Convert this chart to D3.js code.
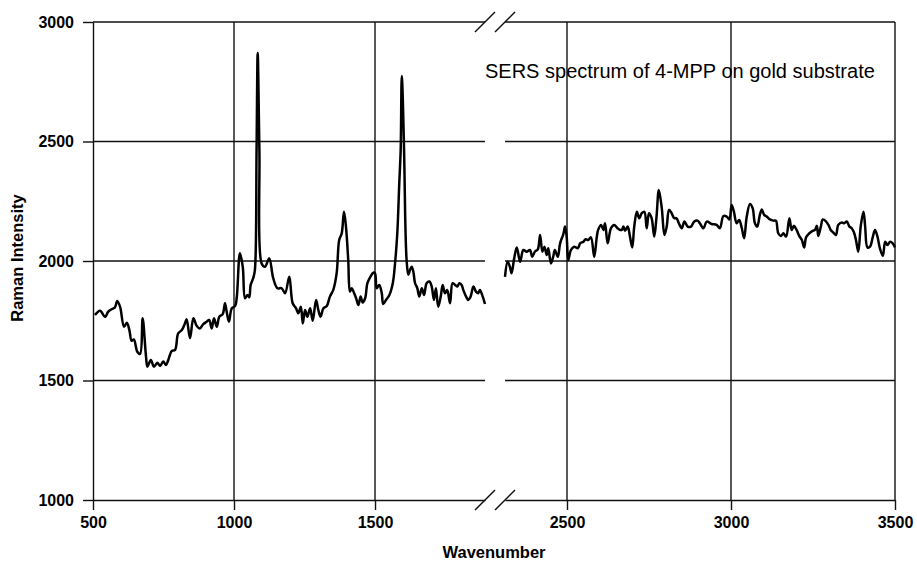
<!DOCTYPE html>
<html>
<head>
<meta charset="utf-8">
<script src="https://cdn.jsdelivr.net/npm/d3@7"></script>
<style>
  html, body { margin: 0; padding: 0; background: #fff; }
  svg { display: block; font-family: "Liberation Sans", Arial, sans-serif; }
</style>
</head>
<body>
<svg id="chart" width="917" height="569"></svg>
<script>
// ---- Data ----
const yTicks = [1000, 1500, 2000, 2500, 3000];
const leftXTicks = [500, 1000, 1500];
const rightXTicks = [2500, 3000, 3500];
const titleText = "SERS spectrum of 4-MPP on gold substrate";
const xTitle = "Wavenumber";
const yTitle = "Raman Intensity";

// Left segment: wavenumber / intensity
const leftWn = [507,525,543,554,566,578,586,596,610,620,629,637,645,657,667,676,688,693,705,716,728,738,749,759,767,779,791,802,815,826,832,844,856,868,879,891,903,912,921,929,939,948,960,968,974,982,992,1004,1010,1021,1031,1039,1047,1054,1059,1068,1074,1080,1084,1090,1098,1110,1125,1139,1154,1169,1181,1196,1208,1220,1228,1237,1244,1252,1260,1270,1279,1291,1299,1307,1317,1329,1340,1352,1364,1373,1382,1390,1397,1405,1411,1417,1426,1433,1441,1449,1456,1465,1473,1485,1494,1500,1506,1515,1524,1529,1539,1551,1563,1571,1579,1586,1591,1595,1603,1607,1612,1618,1624,1630,1636,1642,1650,1657,1666,1674,1683,1693,1701,1709,1716,1724,1733,1740,1748,1756,1766,1775,1784,1792,1799,1807,1813,1823,1831,1839,1849,1858,1866,1872,1882,1890];
const leftVal = [1774,1792,1766,1788,1798,1806,1833,1809,1725,1742,1711,1666,1672,1620,1611,1760,1600,1558,1586,1558,1574,1561,1579,1565,1586,1623,1628,1697,1711,1739,1756,1677,1760,1728,1718,1736,1746,1753,1718,1760,1725,1767,1778,1823,1788,1746,1802,1812,1851,2032,1976,1844,1858,1848,1900,1928,1962,2465,2870,2465,1990,1976,2011,1928,1886,1886,1865,1934,1823,1802,1781,1809,1739,1795,1767,1802,1750,1837,1795,1767,1802,1812,1851,1879,1949,2088,2116,2206,2144,2004,1872,1886,1865,1844,1816,1851,1826,1844,1907,1937,1951,1949,1886,1900,1865,1820,1837,1858,1907,1990,2116,2325,2465,2774,2465,2185,2004,1942,1962,1976,1955,1907,1886,1851,1886,1858,1907,1914,1893,1837,1886,1809,1851,1900,1865,1879,1823,1907,1900,1893,1907,1900,1879,1851,1837,1851,1893,1872,1865,1879,1851,1820];

// Right segment: wavenumber / intensity
const rightWn = [2311,2319,2326,2331,2339,2347,2357,2367,2377,2387,2394,2402,2411,2418,2425,2431,2438,2443,2451,2458,2463,2472,2479,2489,2494,2499,2504,2512,2522,2533,2540,2550,2557,2565,2573,2583,2591,2595,2604,2611,2616,2624,2634,2644,2654,2662,2667,2672,2677,2685,2692,2699,2705,2713,2720,2728,2736,2743,2750,2758,2766,2773,2780,2789,2797,2804,2811,2819,2827,2834,2841,2850,2858,2868,2878,2888,2898,2905,2916,2926,2941,2956,2966,2977,2987,2995,3002,3009,3017,3025,3033,3040,3048,3058,3066,3073,3080,3088,3094,3101,3109,3119,3129,3137,3144,3152,3160,3168,3178,3185,3192,3200,3208,3216,3223,3229,3239,3249,3256,3262,3266,3274,3280,3290,3297,3304,3312,3320,3327,3338,3345,3353,3361,3368,3375,3381,3388,3396,3404,3409,3416,3424,3432,3439,3446,3454,3463,3470,3477,3485,3493,3500];
const rightVal = [1934,1997,1976,1949,2011,2057,1997,2046,2039,2046,2018,2039,2049,2109,2039,2060,2025,2053,1990,2018,2046,2018,2074,2113,2144,2102,2004,2046,2060,2053,2074,2081,2091,2088,2099,2018,2102,2130,2151,2130,2158,2074,2137,2151,2137,2130,2130,2144,2127,2144,2102,2057,2144,2206,2179,2200,2206,2137,2200,2179,2102,2186,2297,2221,2109,2144,2214,2200,2179,2179,2158,2137,2165,2144,2144,2165,2169,2158,2137,2165,2155,2151,2137,2188,2186,2174,2234,2206,2158,2172,2137,2095,2186,2239,2221,2158,2144,2193,2216,2193,2186,2174,2169,2169,2116,2105,2116,2102,2179,2130,2147,2130,2105,2088,2057,2099,2116,2126,2130,2147,2105,2144,2174,2165,2151,2130,2119,2109,2151,2161,2158,2165,2144,2137,2119,2088,2039,2151,2206,2144,2057,2060,2099,2130,2105,2053,2021,2081,2067,2081,2074,2057];

// ---- Layout ----
const svg = d3.select("#chart");
const plotTop = 22, plotBottom = 500;
const xL = d3.scaleLinear().domain([500, 1890]).range([93, 485]);
const xR = d3.scaleLinear().domain([2311, 3500]).range([505, 895]);
const y = d3.scaleLinear().domain([1000, 3000]).range([plotBottom, plotTop]);
const ink = "#111";
const fmt = d3.format("d");

const grid = svg.append("g").attr("stroke", ink).attr("stroke-width", 1.4);
// horizontal grid lines (both panels)
[[93, 485], [505, 895]].forEach(([a, b]) => {
  grid.selectAll(null).data(yTicks.filter(v => v > 1000)).enter().append("line")
    .attr("x1", a).attr("x2", b).attr("y1", d => y(d)).attr("y2", d => y(d));
});
// vertical grid lines
grid.selectAll(null).data(leftXTicks.filter(v => v > 500)).enter().append("line")
  .attr("x1", d => xL(d)).attr("x2", d => xL(d)).attr("y1", plotTop).attr("y2", plotBottom);
grid.selectAll(null).data(rightXTicks).enter().append("line")
  .attr("x1", d => xR(d)).attr("x2", d => xR(d)).attr("y1", plotTop).attr("y2", plotBottom);

// axes
function styleAxis(g) {
  g.selectAll("path.domain").attr("stroke", ink).attr("stroke-width", 1.4);
  g.selectAll(".tick line").attr("stroke", ink).attr("stroke-width", 1.4);
  g.selectAll(".tick text").attr("fill", "#000")
    .style("font-family", '"Liberation Sans", Arial, sans-serif')
    .style("font-weight", "bold").style("font-size", "16px");
}
svg.append("g").attr("transform", `translate(93,0)`)
  .call(d3.axisLeft(y).tickValues(yTicks).tickFormat(fmt).tickSizeInner(10).tickSizeOuter(0).tickPadding(9))
  .call(styleAxis);
svg.append("g").attr("transform", `translate(0,${plotBottom})`)
  .call(d3.axisBottom(xL).tickValues(leftXTicks).tickFormat(fmt).tickSizeInner(10).tickSizeOuter(0).tickPadding(7))
  .call(styleAxis);
svg.append("g").attr("transform", `translate(0,${plotBottom})`)
  .call(d3.axisBottom(xR).tickValues(rightXTicks).tickFormat(fmt).tickSizeInner(10).tickSizeOuter(0).tickPadding(7))
  .call(styleAxis);

// break marks
const brk = svg.append("g").attr("stroke", ink).attr("stroke-width", 1.5);
[plotTop, plotBottom].forEach(cy => {
  [485, 505].forEach(cx => {
    brk.append("line").attr("x1", cx - 10).attr("y1", cy + 10).attr("x2", cx + 10).attr("y2", cy - 10);
  });
});

// spectrum lines
const lineL = d3.line().x((d, i) => xL(leftWn[i])).y(d => y(d)).curve(d3.curveCatmullRom.alpha(0.5));
const lineR = d3.line().x((d, i) => xR(rightWn[i])).y(d => y(d)).curve(d3.curveCatmullRom.alpha(0.5));
svg.append("path").attr("d", lineL(leftVal)).attr("fill", "none").attr("stroke", "#000").attr("stroke-width", 2.5).attr("stroke-linejoin", "round");
svg.append("path").attr("d", lineR(rightVal)).attr("fill", "none").attr("stroke", "#000").attr("stroke-width", 2.5).attr("stroke-linejoin", "round");

// texts
svg.append("text").attr("x", 485).attr("y", 78).attr("font-size", 20).attr("fill", "#000").text(titleText);
svg.append("text").attr("x", 494).attr("y", 558).attr("text-anchor", "middle")
  .attr("font-size", 16.5).attr("font-weight", "bold").text(xTitle);
svg.append("text").attr("transform", "translate(23,258) rotate(-90)").attr("text-anchor", "middle")
  .attr("font-size", 16.5).attr("font-weight", "bold").text(yTitle);
</script>
</body>
</html>
